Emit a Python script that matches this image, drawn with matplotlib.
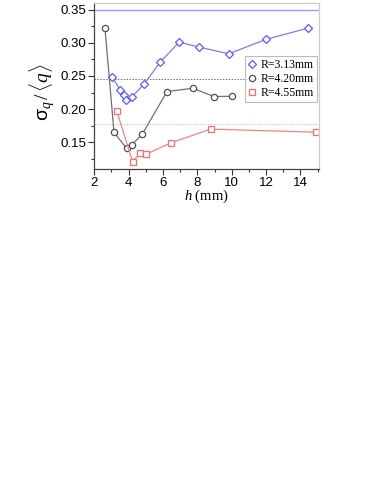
import matplotlib
matplotlib.use('Agg')
import matplotlib.pyplot as plt
from matplotlib.ticker import MultipleLocator

plt.rcParams['font.family'] = 'Liberation Sans'
plt.rcParams['mathtext.fontset'] = 'custom'
plt.rcParams['mathtext.it'] = 'Liberation Serif:italic'
plt.rcParams['mathtext.rm'] = 'Liberation Serif'
plt.rcParams['mathtext.sf'] = 'Liberation Sans'

# values
h_313 = [3.05, 3.49, 3.73, 3.83, 4.17, 4.91, 5.84, 6.94, 8.10, 9.83, 12.02, 14.42]
s_313 = [0.2485, 0.2295, 0.222, 0.2135, 0.218, 0.238, 0.271, 0.301, 0.2935, 0.2835, 0.3055, 0.322]

h_420 = [2.62, 3.15, 3.88, 4.17, 4.79, 6.23, 7.72, 8.98, 10.02]
s_420 = [0.323, 0.165, 0.141, 0.146, 0.162, 0.2265, 0.2315, 0.219, 0.2195]

h_455 = [3.30, 4.23, 4.66, 5.01, 6.48, 8.77, 14.93]
s_455 = [0.198, 0.121, 0.1333, 0.132, 0.1495, 0.170, 0.1653]

# reference levels (horizontal lines)
ref_313 = 0.349
ref_420 = 0.245
ref_455 = 0.1775

blue = '#5a5aff'
grey = '#505050'
red = '#ff6a6a'

fig = plt.figure(figsize=(3.74, 4.84), dpi=100)
ax = fig.add_axes([0.252, 0.651, 0.602, 0.3435])

ax.axhline(ref_313, color='#9a9aff', lw=1.0)
ax.axhline(ref_420, color='#707070', lw=0.7, ls=(0, (1.5, 1.5)))
ax.axhline(ref_455, color='#ffb0b0', lw=0.7, ls=(0, (1.5, 1.5)))

ax.plot(h_313, s_313, color='#7a7aff', lw=0.9, marker='D', ms=4,
        mfc='white', mec=blue, mew=0.9, label='R=3.13mm')
ax.plot(h_420, s_420, color='#707070', lw=0.9, marker='o', ms=4.5,
        mfc='white', mec=grey, mew=0.9, label='R=4.20mm')
ax.plot(h_455, s_455, color='#ff8080', lw=0.9, marker='s', ms=4,
        mfc='white', mec=red, mew=0.9, label='R=4.55mm')

ax.set_xlim(2, 15.1)
ax.set_ylim(0.11, 0.3605)
ax.xaxis.set_major_locator(MultipleLocator(2))
ax.xaxis.set_minor_locator(MultipleLocator(1))
ax.yaxis.set_major_locator(MultipleLocator(0.05))
ax.yaxis.set_minor_locator(MultipleLocator(0.025))
ax.yaxis.set_major_formatter(plt.FormatStrFormatter('%.2f'))

ax.tick_params(which='both', direction='out', top=False, right=False,
               color='#333333', labelsize=9.5, pad=1.5)
ax.tick_params(which='major', length=4, width=0.8)
ax.tick_params(which='minor', length=2.5, width=0.8)

for side in ['left', 'bottom']:
    ax.spines[side].set_color('#444444')
    ax.spines[side].set_linewidth(0.9)
for side in ['top', 'right']:
    ax.spines[side].set_color('#cccccc')
    ax.spines[side].set_linewidth(0.9)

ax.set_xlabel(r'$h$ (mm)', family='Liberation Serif', fontsize=10.5, labelpad=-1)
ax.set_ylabel(r'$\mathsf{\sigma}_{q}\,/\,\langle q\rangle$', fontsize=14)
ax.yaxis.set_label_coords(-0.165, 0.46)

leg = ax.legend(loc='upper right', bbox_to_anchor=(1.0, 0.695), frameon=True,
                fancybox=False, edgecolor='#aaaaaa', handlelength=0.6,
                handletextpad=0.4, borderpad=0.3, labelspacing=0.15,
                borderaxespad=0.2,
                prop={'family': 'Liberation Serif', 'size': 8.5})
leg.get_frame().set_linewidth(0.8)
for line in leg.get_lines():
    line.set_linestyle('None')

fig.savefig('out.png', dpi=100)
